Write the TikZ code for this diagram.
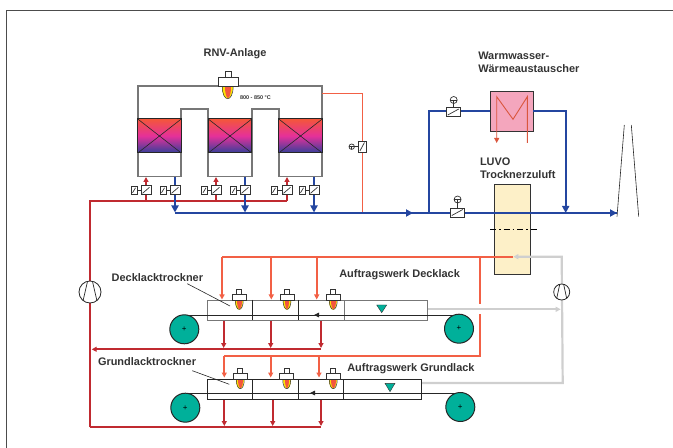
\documentclass[tikz,border=0pt]{standalone}
\usepackage{fontspec}
\setmainfont{Liberation Sans}
\usetikzlibrary{arrows.meta,calc}
\definecolor{pblue}{HTML}{2446A0}
\definecolor{pred}{HTML}{C02A30}
\definecolor{porange}{HTML}{F26045}
\definecolor{pgrey}{HTML}{CFCFCF}
\definecolor{pteal}{HTML}{00B09A}
\definecolor{ink}{HTML}{333333}
\definecolor{wall}{HTML}{777777}
\definecolor{rtop}{HTML}{F4563A}
\definecolor{rmid}{HTML}{E5309A}
\definecolor{rbot}{HTML}{33409A}
\definecolor{luvofill}{HTML}{FDF0C8}
\definecolor{hxfill}{HTML}{F4A6BD}
\tikzset{
  every node/.style={inner sep=0,outer sep=0},
  lab/.style={anchor=base west,text=ink,font=\bfseries\fontsize{11}{13}\selectfont},
  labsmall/.style={anchor=base west,text=ink,font=\bfseries\fontsize{5.5}{7}\selectfont},
  tipsmall/.style={-{Triangle[length=5bp,width=5bp]}},
  tipbig/.style={-{Triangle[length=7bp,width=7bp]}},
  bluepipe/.style={draw=pblue,line width=2.2bp},
  redpipe/.style={draw=pred,line width=2.2bp},
  orangepipe/.style={draw=porange,line width=2.2bp},
  greypipe/.style={draw=pgrey,line width=2.2bp},
  wallline/.style={draw=wall,line width=1.1bp},
  regen/.style={draw=black!85,line width=1bp,minimum width=43.5bp,minimum height=34bp,top color=rtop,bottom color=rbot,middle color=rmid,
    path picture={\draw[black!85,line width=.6bp] (path picture bounding box.north west)--(path picture bounding box.south east) (path picture bounding box.north east)--(path picture bounding box.south west);}},
  vbox/.style={draw=ink,fill=white,line width=.7bp,
    path picture={\draw[ink,line width=.7bp] ($(path picture bounding box.south west)+(1.5bp,1.5bp)$)--($(path picture bounding box.north east)+(-1.5bp,-1.5bp)$);}},
  valvemain/.style={vbox,minimum width=10bp,minimum height=9bp},
  valveside/.style={vbox,minimum width=6bp,minimum height=8bp},
  valvewide/.style={vbox,minimum width=14bp,minimum height=9bp},
  gauge/.style={circle,draw=ink,fill=white,line width=.7bp,minimum size=7bp,
    path picture={\draw[ink,line width=.6bp] (path picture bounding box.west)--(path picture bounding box.east) (path picture bounding box.center)--(path picture bounding box.south);}},
  fan/.style={circle,draw=black!85,fill=white,line width=.8bp},
  roller/.style={circle,draw=black!85,fill=pteal,line width=1bp,minimum size=29bp,font=\fontsize{8}{8}\selectfont},
  burnerbase/.style={draw=ink,fill=white,line width=.7bp,minimum width=14bp,minimum height=5.5bp},
  burnercap/.style={draw=ink,fill=white,line width=.7bp,minimum width=5bp,minimum height=5bp},
  beltline/.style={draw=black!85,line width=.9bp},
  cell/.style={draw=wall,line width=.9bp},
}
\newcommand{\flamepic}[4]{% x, ytop, half width, height
  \fill[draw=black!80,line width=.5bp,fill=yellow!85!orange] (#1-#3,#2) .. controls (#1-#3,#2+#4) and (#1+#3,#2+#4) .. (#1+#3,#2) -- cycle;
  \fill[porange!90!red] (#1-#3*.55,#2) .. controls (#1-#3*.55,#2+#4*.95) and (#1+#3*.55,#2+#4*.95) .. (#1+#3*.55,#2) -- cycle;
}
\newcommand{\burnerpic}[3]{% name, x, ytop of dryer
  \flamepic{#2}{#3}{4}{12.5}
  \node[burnerbase] (#1b) at (#2,#3-2.8) {};
  \node[burnercap,anchor=south] (#1c) at (#1b.north) {};
}
\newcommand{\valvepair}[4]{% name, x main, x side, y
  \node[valvemain] (#1) at (#2,#4) {};
  \node[valveside] (#1s) at (#3,#4) {};
  \draw[ink,line width=.7bp] (#1s) -- (#1);
}
\begin{document}
\begin{tikzpicture}[x=1bp,y=-1bp]
\useasboundingbox (0,0) rectangle (673,448);
\draw[draw=black!70,line width=1bp] (6,448) -- (6,11) -- (673,11);

% RNV walls
\draw[wallline] (138,176.5) -- (138,86) -- (322,86) -- (322,176.5) -- (279,176.5) -- (279,109) -- (252,109) -- (252,176.5) -- (208,176.5) -- (208,109) -- (181,109) -- (181,176.5) -- cycle;
\node[regen] (rega) at (159.5,136) {};
\node[regen] (regb) at (230,136) {};
\node[regen] (regc) at (300.5,136) {};
\flamepic{227.7}{86}{5.5}{17}
\node[draw=ink,fill=white,line width=.7bp,minimum width=20bp,minimum height=8.5bp] (rnvb) at (228,81.7) {};
\node[draw=ink,fill=white,line width=.7bp,minimum width=6bp,minimum height=6bp,anchor=south] (rnvc) at (rnvb.north) {};
\node[lab,anchor=base] at (235,57) {RNV-Anlage};
\node[labsmall] at (240,100) {800 - 850 °C};

% Coordinates
\coordinate (redtop) at (90,201);
\coordinate (redr) at (287,201);
\coordinate (redb) at (90,427.3);
\coordinate (redbr) at (321,427.3);
\coordinate (mainstart) at (175,213);
\coordinate (stackin) at (617,213);
\coordinate (mainmid) at (413,213);
\coordinate (branchl) at (428.7,213);
\coordinate (branchr) at (565.7,213);
\coordinate (hotout) at (322,93);
\coordinate (hotmid) at (362,93);
\coordinate (hotin) at (362,213);

% thin hot bypass
\draw[draw=porange,line width=.9bp] (hotout) -- (hotmid) -- (hotin);
\node[vbox,minimum width=7.5bp,minimum height=11.5bp] (bypass) at (362.2,146.7) {};
\node[gauge,minimum size=5.5bp] (bypassg) at (351.7,146.7) {};
\draw[ink,line width=.7bp] (bypassg) -- (bypass);

% RNV red feeds
\draw[redpipe] (redb) -- (redtop) -- (redr);
\foreach \x in {146,216,287}{
  \coordinate (rf) at (\x,201);
  \draw[draw=pred,line width=1.7bp,tipsmall] (rf) -- (\x,177);
}
% RNV blue returns
\foreach \x in {175,245,314}{
  \coordinate (bf) at (\x,177);
  \draw[draw=pblue,line width=1.9bp,tipbig] (bf) -- (\x,212.5);
}
\valvepair{va}{146}{134}{190.3}
\valvepair{vb}{175}{163}{190.3}
\valvepair{vc}{216}{204.5}{190.3}
\valvepair{vd}{245}{233.7}{190.3}
\valvepair{ve}{287}{274}{190.3}
\valvepair{vf}{314}{302}{190.3}

% LUVO
\node[draw=black!80,fill=luvofill,line width=.8bp,minimum width=35.6bp,minimum height=90bp,anchor=north west] (luvo) at (494.7,184.3) {};
\draw[black,line width=.9bp,dash pattern=on 6bp off 3bp on 1.5bp off 3bp] (490,229.7) -- (538,229.7);

% heat exchanger
\node[draw=ink,fill=hxfill,line width=.9bp,minimum width=42.7bp,minimum height=40.7bp,anchor=north west] (hx) at (490.3,91) {};
\coordinate (hxl) at (496.7,96.7);
\coordinate (hxm) at (513,119.3);
\coordinate (hxr) at (527.3,96.7);
\coordinate (hxin) at (527.3,143);
\coordinate (hxout) at (496.7,143);
\draw[draw=porange!90!black,line width=.9bp,tipsmall] (hxin) -- (hxr) -- (hxm) -- (hxl) -- (hxout);

% blue main
\draw[bluepipe] (mainstart) -- (stackin);
\draw[bluepipe,tipbig] (mainstart) -- (mainmid);
\draw[bluepipe,tipbig] ($(stackin)+(-10,0)$) -- (stackin);
\draw[bluepipe] (branchl) |- (hx.west);
\draw[bluepipe,tipbig] (hx.east) -| (branchr);
\node[valvewide] (vhx) at (453.3,112) {};
\node[gauge] (ghx) at (453.7,100) {};
\draw[ink,line width=.7bp] (ghx) -- (vhx);
\node[valvewide] (vmain) at (457.3,212.5) {};
\node[gauge] (gmain) at (457.6,199.5) {};
\draw[ink,line width=.7bp] (gmain) -- (vmain);

% stack
\coordinate (sa) at (617,216.7);
\coordinate (sb) at (624.3,125);
\coordinate (sc) at (631.3,125);
\coordinate (sd) at (638.7,216.7);
\draw[black!85,line width=.6bp] (sa) -- (sb) (sc) -- (sd);

\node[lab] at (478.3,60) {Warmwasser-};
\node[lab] at (478.3,72.7) {Wärmeaustauscher};
\node[lab] at (480,166) {LUVO};
\node[lab] at (480,178.7) {Trocknerzuluft};

% grey return
\coordinate (gl) at (513.3,256.7);
\coordinate (gc) at (561.7,256.7);
\coordinate (gb) at (562.7,383);
\coordinate (ge) at (421.7,383);
\draw[greypipe,tipsmall] (ge) -- (gb) -- (gc) -- (gl);
\draw[draw=pgrey,line width=1.6bp,tipsmall] (427.7,309.3) -- (560.7,309.3);

% orange supply
\coordinate (ou) at (222,256.7);
\coordinate (oc) at (480.3,256.7);
\coordinate (om) at (480.3,304.3);
\coordinate (on) at (480.3,314);
\coordinate (od) at (480.3,355.7);
\coordinate (ol) at (224.3,355.7);
\draw[orangepipe] (513.3,256.7) -- (ou);
\draw[orangepipe] (oc) -- (om);
\draw[orangepipe] (on) -- (od) -- (ol);
\foreach \x in {222,271.3,316.7}{
  \coordinate (of) at (\x,256.7);
  \draw[orangepipe,tipsmall] (of) -- (\x,299.5);
}
\foreach \x/\t in {224.3/377.5,270.7/377.5,319/377.5}{
  \coordinate (of) at (\x,355.7);
  \draw[orangepipe,tipsmall] (of) -- (\x,\t);
}

% exhaust red
\coordinate (rx) at (321,349.3);
\draw[redpipe,tipsmall] (rx) -- (91.7,349.3);
\draw[redpipe] (redb) -- (redbr);
\foreach \x in {223.7,270.7,321}{
  \draw[draw=pred,line width=1.9bp,tipsmall] (\x,320.3) -- (\x,348);
}
\foreach \x in {224.3,272.7,321}{
  \draw[draw=pred,line width=1.9bp,tipsmall] (\x,399.3) -- (\x,426);
}

% fans
\node[fan,minimum size=22bp] (fanl) at (90,292) {};
\draw[black!85,line width=.7bp] ($(fanl)+(-7,9)$) -- ($(fanl)+(-2.5,-10.5)$) ($(fanl)+(7,9)$) -- ($(fanl)+(2.5,-10.5)$);
\node[fan,minimum size=16bp] (fanr) at (561.7,292) {};
\draw[black!85,line width=.7bp] ($(fanr)+(-5,6.5)$) -- ($(fanr)+(-2,-7.5)$) ($(fanr)+(5,6.5)$) -- ($(fanr)+(2,-7.5)$);

% upper dryer
\foreach \a/\b in {207/252.7,252.7/298.7,298.7/344.3,344.3/427.7}{
  \draw[cell] (\a,300) rectangle (\b,320.3);
}
\draw[black!85,line width=1.1bp] (252.7,300) -- (252.7,320.3) (298.7,300) -- (298.7,320.3);
\draw[beltline] (184.3,315) -- (459,315);
\draw[black!85,line width=.9bp,-{Triangle[length=5bp,width=4.5bp]}] (338,315) -- (314,315);
\node[roller] (rolla) at (184.3,329.3) {+};
\node[roller] (rollb) at (459,328.7) {+};
\burnerpic{ba}{239.3}{300}
\burnerpic{bb}{287}{300}
\burnerpic{bc}{333.3}{300}
\draw[draw=black!80,fill=pteal,line width=.4bp] (376.7,305) -- (386.7,305) -- (381.7,312.7) -- cycle;

% lower dryer
\foreach \a/\b in {207/252.3,252.3/298.3,298.3/343.7,343.7/421.7}{
  \draw[draw=black!85,line width=.9bp] (\a,379.3) rectangle (\b,399.3);
}
\draw[beltline] (185.3,393) -- (460.3,393);
\draw[black!85,line width=.9bp,-{Triangle[length=5bp,width=4.5bp]}] (335,393) -- (310,393);
\node[roller] (rollc) at (185.3,407.7) {+};
\node[roller] (rolld) at (460.3,407) {+};
\burnerpic{bd}{240.3}{379.3}
\burnerpic{be}{286.7}{379.3}
\burnerpic{bf}{333.3}{379.3}
\draw[draw=black!80,fill=pteal,line width=.4bp] (385,383.3) -- (395,383.3) -- (390,391.7) -- cycle;

% labels
\node[lab] (dl) at (111.7,282) {Decklacktrockner};
\node[lab] (gl2) at (98,365.7) {Grundlacktrockner};
\node[lab] at (339.3,278) {Auftragswerk Decklack};
\node[lab] at (347.3,371.7) {Auftragswerk Grundlack};
\coordinate (da) at (187.3,283.7);
\coordinate (db) at (230,306);
\coordinate (ga) at (192.3,370.7);
\coordinate (gbb) at (229.3,384.3);
\draw[black!85,line width=.6bp] (da) -- (db) (ga) -- (gbb);
\end{tikzpicture}
\end{document}
